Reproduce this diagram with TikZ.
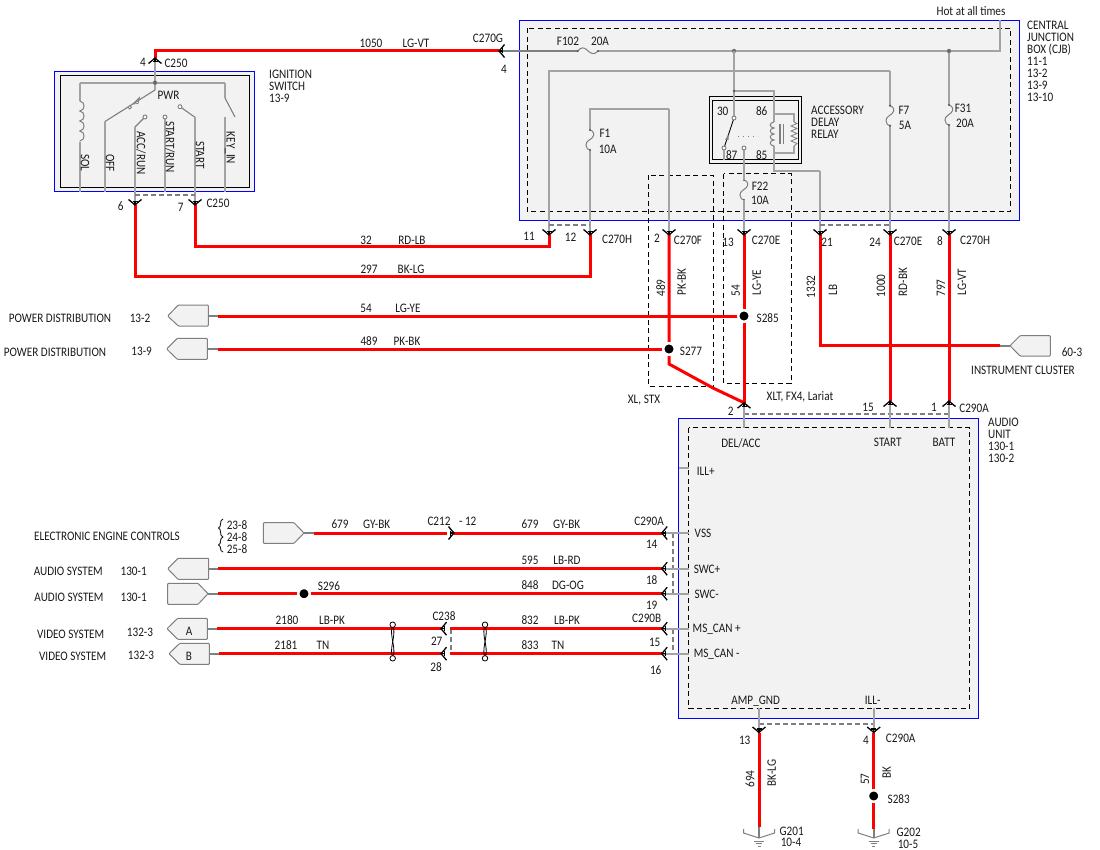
\documentclass[tikz,border=0pt]{standalone}
\usepackage{fontspec}
\setmainfont{Carlito}[FakeStretch=0.86]
\definecolor{boxfill}{HTML}{F2F2F2}
\definecolor{wiregray}{HTML}{A3A3A3}
\definecolor{stubgray}{HTML}{7F7F7F}
\definecolor{bluebox}{HTML}{0000FF}
\definecolor{inkc}{HTML}{1A1A1A}
\tikzset{
 x=1pt,y=-1pt,
 lab/.style={inner sep=0pt,text=inkc,font=\fontsize{13}{12}\selectfont,anchor=center},
 multilab/.style={lab,align=left,anchor=north west},
 rw/.style={line width=3pt,draw=red,line join=miter},
 gw/.style={line width=2pt,draw=wiregray},
 thinw/.style={line width=1.1pt,draw=stubgray},
 stubw/.style={line width=2pt,draw=stubgray},
 hw/.style={line width=2pt,draw=stubgray,dash pattern=on 5pt off 3pt},
 ctl/.style={line width=1pt,draw=black,dash pattern=on 5pt off 3.5pt},
 bluew/.style={line width=1pt,draw=bluebox,fill=boxfill},
 blackw/.style={line width=1pt,draw=black},
 pent/.style={line width=1pt,draw=stubgray,fill=boxfill,rounded corners=0.8pt},
 swdot/.style={circle,draw=stubgray,fill=white,line width=0.9pt,inner sep=0pt,minimum size=4pt},
 jdot/.style={circle,draw=stubgray,fill=stubgray!80!black,inner sep=0pt,minimum size=4pt},
 splice/.style={circle,fill=black,draw=white,line width=2.5pt,inner sep=0pt,minimum size=11.5pt},
 twc/.style={circle,draw=black,fill=white,line width=0.8pt,inner sep=0pt,minimum size=5.5pt},
 conn/.pic={
  \draw[black,line width=1.3pt] (-6.5,-5.5) .. controls (-4.5,-3.8) and (-2,-2) .. (0,0) .. controls (2,-2) and (4.5,-3.8) .. (6.5,-5.5);
  \draw[black,line width=1.1pt] (-2.5,-3.5) -- (2.5,-3.5) (0,-3.5) -- (0,0);
 },
 gnd/.pic={
  \draw[stubgray,line width=1pt] (-15.5,-9) -- (-15.5,-5) -- (0,0) -- (15.5,-5) -- (15.5,-9);
  \draw[stubgray,line width=0.9pt] (-5,3) -- (5,3) (-3.2,5.5) -- (3.2,5.5) (-1.5,8) -- (1.5,8);
 },
 vfuse/.pic={
  \draw[stubgray,line width=1pt] (0,0) .. controls (4,1) and (5,5) .. (2,8) .. controls (0,10) and (-4,11) .. (-4,15) .. controls (-4,18) and (-2,20) .. (0,20);
  \fill[stubgray!70!black] (0,0) circle (1.2) (0,20) circle (1.2);
 },
}
\begin{document}
\begin{tikzpicture}
\useasboundingbox (0,0) rectangle (1100,850);
\fill[white] (0,0) rectangle (1100,850);

% ---------- component boxes
\draw[bluew] (54.3,71.7) rectangle (254.3,191.7);
\draw[blackw] (60.7,76) rectangle (249.7,187.3);
\draw[bluew] (519.7,20.3) rectangle (1019.7,220.3);
\draw[bluew] (678.7,418.7) rectangle (978.3,718.3);

% ---------- coordinates: connectors (apex of each symbol)
\coordinate (k4) at (155,58);
\coordinate (k6) at (135,205);
\coordinate (k7) at (195,205);
\coordinate (kG) at (499,51);
\coordinate (k11) at (549,235);
\coordinate (k12) at (590,235);
\coordinate (kF) at (669,235);
\coordinate (kE) at (744,235);
\coordinate (k21) at (820,235);
\coordinate (k24) at (890,235);
\coordinate (k8) at (949,235);
\coordinate (kA2) at (744,402.7);
\coordinate (kA15) at (890,401);
\coordinate (kA1) at (949,401);
\coordinate (kV) at (661.7,533);
\coordinate (kP) at (661.7,568.7);
\coordinate (kM) at (661.7,593.7);
\coordinate (kC) at (661.7,628.7);
\coordinate (kD) at (661.7,653.7);
\coordinate (kJ) at (454,533);
\coordinate (kJr) at (447,533);
\coordinate (k27) at (441,628.7);
\coordinate (k28) at (441,653.7);
\coordinate (k13) at (759,732.5);
\coordinate (k4b) at (873.7,732.5);

% ---------- coordinates: junctions and bends
\coordinate (jt) at (155,82.7);
\coordinate (sol) at (79.7,82.7);
\coordinate (key) at (225,82.7);
\coordinate (j1) at (734,51);
\coordinate (j2) at (949,51);
\coordinate (hot) at (1000,20.3);
\coordinate (fa) at (577.7,51);
\coordinate (fb) at (598,51);
\coordinate (j3) at (734,91);
\coordinate (r30) at (734,118);
\coordinate (r87a) at (724,148);
\coordinate (r87b) at (744,148);
\coordinate (g1) at (774,114);
\coordinate (g2) at (794,114);
\coordinate (g3) at (794,153);
\coordinate (g4) at (774,153);
\coordinate (g5) at (820,171);
\coordinate (top2a) at (549,71);
\coordinate (top2b) at (890,71);
\coordinate (f1a) at (590,130);
\coordinate (f1b) at (590,150);
\coordinate (f1t) at (669,108.7);
\coordinate (f7a) at (890,105.7);
\coordinate (f7b) at (890,125.7);
\coordinate (f31a) at (949,105);
\coordinate (f31b) at (949,125);
\coordinate (f22a) at (744,180);
\coordinate (f22b) at (744,200);
\coordinate (red285) at (218,316);
\coordinate (red277) at (218,349);
\coordinate (stub285) at (208.3,316);
\coordinate (stub277) at (207.3,349);
\coordinate (cluster) at (1010,345.7);
\coordinate (clusterw) at (1000,345.7);
\coordinate (kink) at (669,364);
\coordinate (kink2) at (713,388);
\coordinate (bend6) at (135,276.5);
\coordinate (bend12) at (590,276.5);
\coordinate (bend7) at (195,246.5);
\coordinate (bend11) at (549,246.5);

% ---------- control (dashed) boxes
\draw[ctl] (527.3,28.3) rectangle (1010.7,211.3);
\draw[ctl] (688.7,427.7) rectangle (969.5,708.3);
\draw[ctl] (648.3,175.3) rectangle (713.3,386);
\draw[ctl] (723.7,174) rectangle (791.3,383.3);

% ---------- gray wiring: ignition switch
\draw[gw] (sol) -- (key);
\draw[gw] (k4) -- (jt);
\draw[gw] (sol) -- (79.7,101) (79.7,142) -- (79.7,192);
\draw[thinw] (jt) -- (155,90) -- (104.7,121.7);
\draw[gw] (104.7,121.7) -- (104.7,192);
\draw[thinw] (145,117) -- (135,127);
\draw[gw] (135,127) -- (k6);
\draw[gw] (165,117) -- (165,192);
\draw[thinw] (180,106.7) -- (195,117.3);
\draw[gw] (195,117.3) -- (k7);
\draw[gw] (225,117) -- (225,192);
\draw[gw] (key) -- (225,98);
\draw[thinw] (225,98) -- (235,117);
\draw[stubgray,line width=1pt] (79.7,101) foreach \yy in {101,111,121,131} { .. controls (85.5,\yy+0.5) and (85.5,\yy+9.5) .. (79.7,\yy+10) };
\draw[hw] (135,195.3) -- (195,195.3);
\node[swdot,minimum size=3.5pt] (swP) at (129.7,107.3) {};
\node[swdot] (swA) at (145,117) {};
\node[swdot] (swR) at (165,117) {};
\node[swdot] (swS) at (180,106.7) {};
\node[jdot] (jign) at (jt) {};
\draw[stubgray,line width=0.8pt] (133,104) -- (139.5,97.5) -- (138,103.5) -- cycle;

% ---------- gray wiring: junction box
\draw[gw,draw=stubgray] (kG) -- (fa);
\draw[gw] (fb) -- (1000,51) -- (hot);
\draw[stubgray,line width=1pt] (fa) .. controls (581,47) and (584,47) .. (587,50) .. controls (590,53) and (594,56) .. (fb);
\fill[stubgray!70!black] (fa) circle (1.2) (fb) circle (1.2);
\draw[gw] (k11) |- (top2b);
\draw[gw] (top2b) -- (f7a);
\draw[gw] (f7b) -- (k24);
\draw[gw] (j2) -- (f31a);
\draw[gw] (f31b) -- (k8);
\draw[gw] (f1a) |- (f1t);
\draw[gw] (f1t) -- (kF);
\draw[gw] (f1b) -- (k12);
\pic at (f1a) {vfuse};
\pic at (f7a) {vfuse};
\pic at (f31a) {vfuse};
\pic at (f22a) {vfuse};
\node[jdot] (jn1) at (j1) {};
\node[jdot] (jn2) at (j2) {};

% ---------- accessory delay relay
\draw[blackw,fill=boxfill] (709.7,96.7) rectangle (801.7,163.3);
\draw[blackw] (712.3,100.7) rectangle (798.7,159.7);
\draw[gw] (j1) -- (r30);
\draw[gw] (j3) -| (g1);
\draw[gw] (g1) -- (774,122) (774,146) -- (g4);
\draw[gw] (g1) -- (g2) -- (794,122) (794,146) -- (g3) -- (g4);
\draw[gw] (g4) -- (774,171) -- (g5);
\draw[gw] (g5) -- (k21);
\draw[gw] (r87a) -- (724,160);
\draw[gw] (r87b) -- (f22a);
\draw[gw] (f22b) -- (kE);
\draw[stubgray,line width=1pt] (774,122) foreach \yy in {122,128,134,140} { .. controls (769,\yy+0.5) and (769,\yy+5.5) .. (774,\yy+6) };
\draw[stubgray,line width=0.8pt] (794,122) -- (797,123.5) -- (791,126) -- (797,128.5) -- (791,131) -- (797,133.5) -- (791,136) -- (797,138.5) -- (791,141) -- (797,143.5) -- (794,146);
\draw[stubgray,line width=1.1pt] (780,124) -- (780,144) (783.5,124) -- (783.5,144);
\draw[black,line width=0.9pt] (r30) -- (r87a);
\fill[stubgray] (725,140) -- (728.5,134.5) -- (728.5,140) -- cycle;
\draw[stubgray,line width=0.8pt,dash pattern=on 1pt off 4pt] (738,136) -- (758,136);
\node[swdot] (sw30) at (r30) {};
\node[swdot] (sw87a) at (r87a) {};
\node[swdot] (sw87b) at (r87b) {};
\fill[stubgray!70!black] (j3) circle (1.4);

% ---------- shared-connector dashes
\draw[hw] (549,224.7) -- (590,224.7);
\draw[hw] (820,224.7) -- (890,224.7);
\draw[hw] (744,414) -- (949,414);
\draw[hw] (672.7,533) -- (672.7,593.7);
\draw[hw] (672.7,628.7) -- (672.7,653.7);
\draw[hw] (450.7,628.7) -- (450.7,653.7);
\draw[hw] (759,723.7) -- (873.7,723.7);

% ---------- gray stubs into audio unit
\draw[gw] (kA2) -- (744,427.7);
\draw[gw] (kA15) -- (890,427.7);
\draw[gw] (kA1) -- (949,427.7);
\draw[gw] (678.7,467.7) -- (688.7,467.7);
\draw[gw] (kV) -- (688.7,533);
\draw[gw] (kP) -- (688.7,568.7);
\draw[gw] (kM) -- (688.7,593.7);
\draw[gw] (kC) -- (688.7,628.7);
\draw[gw] (kD) -- (688.7,653.7);
\draw[gw] (759,708.3) -- (k13);
\draw[gw] (873.7,708.3) -- (k4b);

% ---------- pentagons
\draw[pent] (167.7,316) -- (178.3,305) -- (208.3,305) -- (208.3,326) -- (178.3,326) -- cycle;
\draw[pent] (166.7,349) -- (177.3,338.3) -- (207.3,338.3) -- (207.3,359.3) -- (177.3,359.3) -- cycle;
\draw[pent] (263.3,522.7) -- (294,522.7) -- (304,533) -- (294,543.3) -- (263.3,543.3) -- cycle;
\draw[pent] (167.7,568.7) -- (178,558.3) -- (208.7,558.3) -- (208.7,579.3) -- (178,579.3) -- cycle;
\draw[pent] (167.7,583.3) -- (198,583.3) -- (208,593.7) -- (198,604.3) -- (167.7,604.3) -- cycle;
\draw[pent] (167,628.7) -- (177.7,618.3) -- (207.3,618.3) -- (207.3,639.3) -- (177.7,639.3) -- cycle;
\draw[pent] (169,653.7) -- (179.7,643.3) -- (209.3,643.3) -- (209.3,664.3) -- (179.7,664.3) -- cycle;
\draw[pent] (1010,345.7) -- (1020,335.7) -- (1050.3,335.7) -- (1050.3,356) -- (1020,356) -- cycle;
\draw[stubw] (stub285) -- (red285);
\draw[stubw] (stub277) -- (red277);
\draw[stubw] (304,533) -- (314,533);
\draw[stubw] (208.7,568.7) -- (218,568.7);
\draw[stubw] (208,593.7) -- (218,593.7);
\draw[stubw] (207.3,628.7) -- (217,628.7);
\draw[stubw] (209.3,653.7) -- (219,653.7);
\draw[stubw] (clusterw) -- (cluster);

% ---------- red wires
\draw[rw] (k4) |- (kG);
\draw[rw] (k6) -- (bend6) -- (bend12) -- (k12);
\draw[rw] (k7) -- (bend7) -- (bend11) -- (k11);
\draw[rw] (kF) -- (kink) -- (kink2) -- (kA2);
\draw[rw] (kE) -- (kA2);
\draw[rw] (red285) -- (744,316);
\draw[rw] (red277) -- (669,349);
\draw[rw] (k21) |- (clusterw);
\draw[rw] (k24) -- (kA15);
\draw[rw] (k8) -- (kA1);
\draw[rw] (314,533) -- (kJr);
\draw[rw] (kJ) -- (kV);
\draw[rw] (218,568.7) -- (kP);
\draw[rw] (218,593.7) -- (kM);
\draw[rw] (217,628.7) -- (k27);
\draw[rw] (450,628.7) -- (kC);
\draw[rw] (219,653.7) -- (k28);
\draw[rw] (450,653.7) -- (kD);
\draw[rw] (k13) -- (759,827.3);
\draw[rw] (k4b) -- (873.7,829);
\draw[stubw] (759,827.3) -- (759,838);
\draw[stubw] (873.7,829) -- (873.7,838);

% ---------- splices
\node[splice] (S285) at (744,316) {};
\node[splice] (S277) at (669,349) {};
\node[splice] (S296) at (304,593.7) {};
\node[splice] (S283) at (873.7,796) {};

% ---------- connector symbols
\pic[rotate=180] at (k4) {conn};
\pic at (k6) {conn};
\pic at (k7) {conn};
\pic[rotate=-90] at (kG) {conn};
\pic at (k11) {conn};
\pic at (k12) {conn};
\pic at (kF) {conn};
\pic at (kE) {conn};
\pic at (k21) {conn};
\pic at (k24) {conn};
\pic at (k8) {conn};
\pic[rotate=180] at (kA2) {conn};
\pic[rotate=180] at (kA15) {conn};
\pic[rotate=180] at (kA1) {conn};
\pic[rotate=-90] at (kV) {conn};
\pic[rotate=-90] at (kP) {conn};
\pic[rotate=-90] at (kM) {conn};
\pic[rotate=-90] at (kC) {conn};
\pic[rotate=-90] at (kD) {conn};
\pic[rotate=90] at (kJ) {conn};
\pic[rotate=-90] at (k27) {conn};
\pic[rotate=-90] at (k28) {conn};
\pic at (k13) {conn};
\pic at (k4b) {conn};
\pic at (759,838) {gnd};
\pic at (873.7,838) {gnd};

% ---------- twisted pair marks
\node[twc] (tw1a) at (392.7,624.7) {};
\node[twc] (tw1b) at (392.7,658.3) {};
\node[twc] (tw2a) at (485,624.7) {};
\node[twc] (tw2b) at (485,658.3) {};
\draw[black,line width=0.8pt] (tw1a) .. controls (390,636) and (395.5,647) .. (tw1b);
\draw[black,line width=0.8pt] (tw1a) .. controls (395.5,636) and (390,647) .. (tw1b);
\draw[black,line width=0.8pt] (tw2a) .. controls (482.3,636) and (487.8,647) .. (tw2b);
\draw[black,line width=0.8pt] (tw2a) .. controls (487.8,636) and (482.3,647) .. (tw2b);

% ---------- page braces
\draw[inkc,line width=0.9pt] (223,519) .. controls (219,520) and (222,527) .. (218.5,528) .. controls (222,529) and (219,536) .. (223,537);
\draw[inkc,line width=0.9pt] (223,537) .. controls (219,538) and (222,544) .. (218.5,545) .. controls (222,546) and (219,551) .. (223,552);

% ---------- texts: top
\node[lab] (t1050) at (371,43) {1050};
\node[lab] (tLGVT) at (416,43) {LG-VT};
\node[lab] (tC270G) at (488,38) {C270G};
\node[lab] (t4g) at (504,69) {4};
\node[lab] (tF102) at (568,41) {F102};
\node[lab] (t20a) at (600,41) {20A};
\node[lab] (thot) at (971,11) {Hot at all times};
\node[multilab] (tcjb) at (1027,21) {CENTRAL\\JUNCTION\\BOX (CJB)\\11-1\\13-2\\13-9\\13-10};
\node[multilab] (tign) at (269,70) {IGNITION\\SWITCH\\13-9};
\node[lab] (t4a) at (143,62) {4};
\node[lab] (tC250a) at (176,63) {C250};
\node[lab] (tPWR) at (168.6,95) {PWR};
\node[lab,rotate=-90] (tSOL) at (85,163) {SOL};
\node[lab,rotate=-90] (tOFF) at (110,163) {OFF};
\node[lab,rotate=-90] (tACC) at (141,153) {ACC/RUN};
\node[lab,rotate=-90] (tSR) at (170,147) {START/RUN};
\node[lab,rotate=-90] (tST) at (200,155) {START};
\node[lab,rotate=-90] (tKEY) at (230,148) {KEY\_IN};
\node[lab] (t6) at (120.7,206) {6};
\node[lab] (t7) at (180.7,207.7) {7};
\node[lab] (tC250b) at (218,203) {C250};
\node[lab] (t32) at (366,240) {32};
\node[lab] (tRDLB) at (412,240) {RD-LB};
\node[lab] (t297) at (369,269) {297};
\node[lab] (tBKLG) at (411,269) {BK-LG};
\node[lab] (t11) at (529,236) {11};
\node[lab] (t12) at (570.5,237) {12};
\node[lab] (tC270H) at (617,239) {C270H};
\node[lab] (t2f) at (657,238) {2};
\node[lab] (tC270F) at (688,240) {C270F};
\node[lab] (t13e) at (728,242) {13};
\node[lab] (tC270E) at (766,240) {C270E};
\node[lab] (t21) at (827,242) {21};
\node[lab] (t24) at (875,242) {24};
\node[lab] (tC270E2) at (908,241) {C270E};
\node[lab] (t8) at (940,241) {8};
\node[lab] (tC270H2) at (975,240) {C270H};
\node[lab,rotate=90] (t489v) at (660.7,288) {489};
\node[lab,rotate=90] (tPKBKv) at (681.7,281.7) {PK-BK};
\node[lab,rotate=90] (t54v) at (735.7,291) {54};
\node[lab,rotate=90] (tLGYEv) at (756.7,282.7) {LG-YE};
\node[lab,rotate=90] (t1332) at (811,286.7) {1332};
\node[lab,rotate=90] (tLB) at (833,290) {LB};
\node[lab,rotate=90] (t1000) at (881,286) {1000};
\node[lab,rotate=90] (tRDBK) at (903,282) {RD-BK};
\node[lab,rotate=90] (t797) at (941,288) {797};
\node[lab,rotate=90] (tLGVTv) at (962,282) {LG-VT};
\node[lab] (t54) at (366,308) {54};
\node[lab] (tLGYE) at (408,308) {LG-YE};
\node[lab] (t489) at (369,341) {489};
\node[lab] (tPKBK) at (407,341) {PK-BK};
\node[lab] (tS285) at (767.7,318) {S285};
\node[lab] (tS277) at (691,351) {S277};
\node[lab] (tXL) at (644,400) {XL, STX};
\node[lab] (tXLT) at (800,397) {XLT, FX4, Lariat};
\node[lab] (t2a) at (730.7,411.7) {2};
\node[lab] (t15a) at (868,407) {15};
\node[lab] (t1a) at (934,407) {1};
\node[lab] (tC290A) at (974,408) {C290A};
\node[lab] (t603) at (1072,352) {60-3};
\node[lab] (tIC) at (1023,370) {INSTRUMENT CLUSTER};
\node[multilab] (taudio) at (988,418) {AUDIO\\UNIT\\130-1\\130-2};
\node[lab] (tPD1) at (60,318) {POWER DISTRIBUTION};
\node[lab] (t132) at (140,318) {13-2};
\node[lab] (tPD2) at (55,352) {POWER DISTRIBUTION};
\node[lab] (t139) at (141.7,351.7) {13-9};

% ---------- texts: relay and fuses
\node[lab] (t30) at (722.7,111) {30};
\node[lab] (t86) at (761.7,111) {86};
\node[lab] (t87) at (731.7,155) {87};
\node[lab] (t85) at (761.7,155) {85};
\node[multilab] (trelay) at (811,106) {ACCESSORY\\DELAY\\RELAY};
\node[lab] (tF1) at (605,133) {F1};
\node[lab] (t10a) at (607.7,149) {10A};
\node[lab] (tF22) at (760,186) {F22};
\node[lab] (t10b) at (760,200) {10A};
\node[lab] (tF7) at (904,110) {F7};
\node[lab] (t5a) at (905,125) {5A};
\node[lab] (tF31) at (963,108) {F31};
\node[lab] (t20b) at (965,123) {20A};

% ---------- texts: audio unit
\node[lab] (tDEL) at (741,443) {DEL/ACC};
\node[lab] (tSTART) at (887.7,442.7) {START};
\node[lab] (tBATT) at (944,442) {BATT};
\node[lab] (tILLp) at (705.7,471) {ILL+};
\node[lab] (tVSS) at (703,533) {VSS};
\node[lab] (tSWCp) at (707,569) {SWC+};
\node[lab] (tSWCm) at (706.7,594) {SWC-};
\node[lab] (tCANp) at (716.7,629) {MS\_CAN +};
\node[lab] (tCANm) at (716.7,654) {MS\_CAN -};
\node[lab] (tAMP) at (755.7,701) {AMP\_GND};
\node[lab] (tILLm) at (872.7,700) {ILL-};

% ---------- texts: left rows
\node[lab] (t679a) at (340,524) {679};
\node[lab] (tGYa) at (376.7,524) {GY-BK};
\node[lab] (tC212) at (439,521) {C212};
\node[lab] (tm12) at (467.7,521) {- 12};
\node[lab] (t679b) at (530,524) {679};
\node[lab] (tGYb) at (566.7,524) {GY-BK};
\node[lab] (tC290Aa) at (649,521) {C290A};
\node[lab] (t14) at (651.7,544) {14};
\node[lab] (t595) at (530,560) {595};
\node[lab] (tLBRD) at (567,560) {LB-RD};
\node[lab] (t18) at (651.7,580) {18};
\node[lab] (t848) at (530,585) {848};
\node[lab] (tDGOG) at (568,585) {DG-OG};
\node[lab] (t19) at (651.7,605) {19};
\node[lab] (t832) at (530,620) {832};
\node[lab] (tLBPKb) at (567,620) {LB-PK};
\node[lab] (tC290B) at (646.7,618) {C290B};
\node[lab] (t15b) at (654.7,642) {15};
\node[lab] (t833) at (530,645) {833};
\node[lab] (tTNb) at (558,645) {TN};
\node[lab] (t16) at (655.7,670) {16};
\node[lab] (tS296) at (329,586) {S296};
\node[lab] (t2180) at (287,620) {2180};
\node[lab] (tLBPKa) at (332,620) {LB-PK};
\node[lab] (t2181) at (286,645) {2181};
\node[lab] (tTNa) at (323,645) {TN};
\node[lab] (tC238) at (444,616) {C238};
\node[lab] (t27) at (436.7,641) {27};
\node[lab] (t28) at (436,667) {28};
\node[lab] (t238) at (237,525) {23-8};
\node[lab] (t248) at (237,537) {24-8};
\node[lab] (t258) at (237,549) {25-8};
\node[lab] (tEEC) at (107,536) {ELECTRONIC ENGINE CONTROLS};
\node[lab] (tAS1) at (68.3,571) {AUDIO SYSTEM};
\node[lab] (t1301a) at (133.7,571) {130-1};
\node[lab] (tAS2) at (69,597) {AUDIO SYSTEM};
\node[lab] (t1301b) at (133.7,597) {130-1};
\node[lab] (tVS1) at (70.7,634) {VIDEO SYSTEM};
\node[lab] (t1323a) at (140,632) {132-3};
\node[lab] (tVS2) at (72.7,656) {VIDEO SYSTEM};
\node[lab] (t1323b) at (141,655) {132-3};
\node[lab] (tA) at (189,631) {A};
\node[lab] (tB) at (189,656) {B};

% ---------- texts: bottom
\node[lab] (t13b) at (744.7,740) {13};
\node[lab] (t4b) at (866,740) {4};
\node[lab] (tC290Ab) at (900.7,738) {C290A};
\node[lab,rotate=90] (t694) at (750,779) {694};
\node[lab,rotate=90] (tBKLGv) at (771.7,773) {BK-LG};
\node[lab,rotate=90] (t57) at (865,779) {57};
\node[lab,rotate=90] (tBK) at (886.7,773) {BK};
\node[lab] (tS283) at (898.7,799) {S283};
\node[lab] (tG201) at (791.7,831) {G201};
\node[lab] (t104) at (791,842) {10-4};
\node[lab] (tG202) at (908.7,832) {G202};
\node[lab] (t105) at (908,844) {10-5};
\end{tikzpicture}
\end{document}
